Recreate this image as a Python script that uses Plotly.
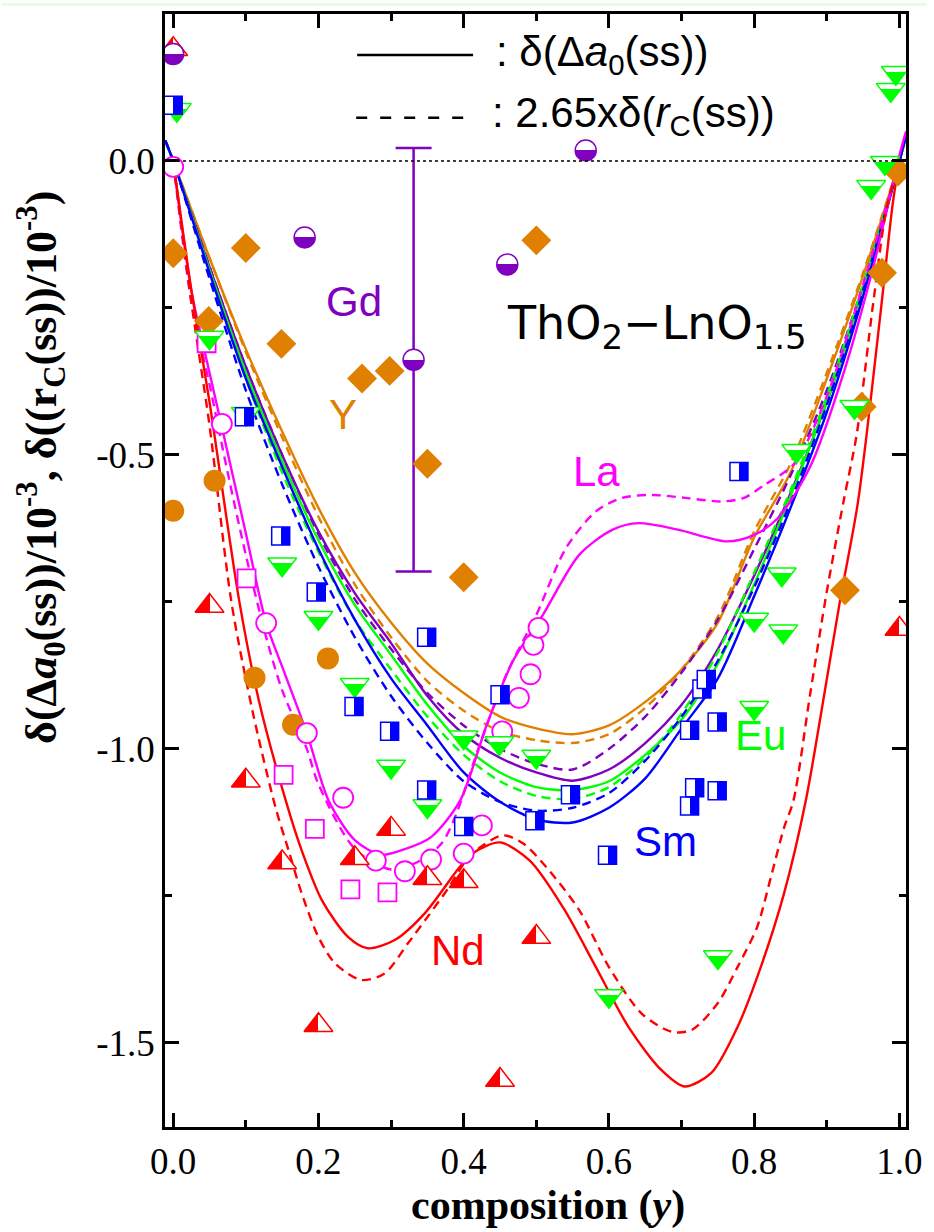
import plotly.graph_objects as go

# ---------------- data ----------------
X_TICKS = [0.0, 0.2, 0.4, 0.6, 0.8, 1.0]
X_TICK_TEXT = ["0.0", "0.2", "0.4", "0.6", "0.8", "1.0"]
X_MINOR = [0.1, 0.3, 0.5, 0.7, 0.9]
Y_TICKS = [0.0, -0.5, -1.0, -1.5]
Y_TICK_TEXT = ["0.0", "-0.5", "-1.0", "-1.5"]
Y_MINOR = [-0.25, -0.75, -1.25]

# measured points
ND_X = [0.0, 0.05, 0.1, 0.15, 0.2, 0.25, 0.3, 0.35, 0.4, 0.45, 0.5, 1.0]
ND_Y = [0.19, -0.757, -1.054, -1.193, -1.47, -1.186, -1.136, -1.22, -1.225, -1.563, -1.32, -0.796]

LA_CIRC_X = [0.0, 0.067, 0.128, 0.184, 0.234, 0.279, 0.319, 0.355, 0.40, 0.425, 0.453, 0.476, 0.492, 0.496, 0.503]
LA_CIRC_Y = [-0.01, -0.447, -0.786, -0.973, -1.083, -1.19, -1.208, -1.188, -1.178, -1.13, -0.97, -0.913, -0.873, -0.823, -0.794]
LA_SQ_X = [0.046, 0.101, 0.152, 0.195, 0.244, 0.295]
LA_SQ_Y = [-0.31, -0.71, -1.044, -1.136, -1.239, -1.244]

SM_X = [0.0, 0.098, 0.148, 0.197, 0.249, 0.298, 0.349, 0.349, 0.40, 0.45, 0.498, 0.547, 0.598,
        0.711, 0.711, 0.718, 0.728, 0.734, 0.749, 0.749, 0.779]
SM_Y = [0.095, -0.435, -0.638, -0.733, -0.928, -0.97, -0.81, -1.07, -1.132, -0.908, -1.122, -1.078, -1.181,
        -0.968, -1.097, -1.066, -0.898, -0.882, -0.954, -1.071, -0.528]

EU_X = [0.005, 0.05, 0.1, 0.15, 0.2, 0.25, 0.30, 0.35, 0.40, 0.449, 0.50, 0.60, 0.75, 0.80, 0.84, 0.80,
        0.838, 0.858, 0.938, 0.961, 0.98, 0.988, 0.995]
EU_Y = [0.087, -0.30, -0.43, -0.686, -0.777, -0.891, -1.03, -1.097, -0.98, -0.99, -1.013, -1.42, -1.354, -0.93,
        -0.80, -0.78, -0.703, -0.493, -0.418, -0.044, -0.003, 0.121, 0.15]

GD_X = [0.0, 0.181, 0.331, 0.46, 0.568]
GD_Y = [0.182, -0.13, -0.338, -0.176, 0.018]
GD_ERR = [0.36]

Y_DIA_X = [0.0, 0.049, 0.1, 0.149, 0.26, 0.298, 0.35, 0.40, 0.50, 0.925, 0.948, 0.976, 0.998]
Y_DIA_Y = [-0.157, -0.272, -0.148, -0.311, -0.37, -0.357, -0.515, -0.708, -0.135, -0.73, -0.418, -0.19, -0.018]
Y_CIRC_X = [0.0, 0.057, 0.112, 0.165, 0.213]
Y_CIRC_Y = [-0.595, -0.544, -0.879, -0.959, -0.846]

# model curves (solid: delta(Delta a0(ss)), dashed: 2.65 x delta(rc(ss)))
CX = [-0.011, 0, 0.05, 0.1, 0.15, 0.2, 0.25, 0.3, 0.35, 0.4, 0.45, 0.5, 0.55, 0.6, 0.65, 0.7,
      0.75, 0.8, 0.85, 0.9, 0.95, 1.0, 1.009]
Y_SOLID = [0.035, 0, -0.165, -0.32, -0.46, -0.59, -0.70, -0.785, -0.855, -0.905, -0.945, -0.965, -0.975,
           -0.96, -0.92, -0.865, -0.785, -0.64, -0.53, -0.37, -0.195, 0.0, 0.04]
Y_DASH = [0.035, 0, -0.165, -0.325, -0.47, -0.605, -0.72, -0.81, -0.885, -0.935, -0.97, -0.985, -0.99,
          -0.975, -0.93, -0.865, -0.775, -0.63, -0.515, -0.36, -0.19, 0.0, 0.04]
GD_SOLID = [0.035, 0, -0.18, -0.35, -0.50, -0.63, -0.735, -0.82, -0.91, -0.975, -1.015, -1.04, -1.054,
            -1.035, -0.99, -0.925, -0.83, -0.705, -0.565, -0.41, -0.22, 0.0, 0.045]
GD_DASH = [0.035, 0, -0.18, -0.35, -0.50, -0.635, -0.745, -0.83, -0.905, -0.96, -1.0, -1.025, -1.035,
           -1.0, -0.945, -0.87, -0.78, -0.66, -0.535, -0.39, -0.21, 0.0, 0.045]
EU_SOLID = [0.035, 0, -0.185, -0.36, -0.51, -0.645, -0.755, -0.84, -0.925, -0.995, -1.04, -1.065, -1.07,
            -1.055, -1.01, -0.95, -0.855, -0.72, -0.57, -0.41, -0.22, 0.0, 0.045]
EU_DASH = [0.035, 0, -0.19, -0.37, -0.53, -0.665, -0.78, -0.865, -0.945, -1.01, -1.055, -1.08, -1.085,
           -1.065, -1.015, -0.94, -0.835, -0.70, -0.56, -0.40, -0.21, 0.0, 0.045]
SM_SOLID = [0.035, 0, -0.19, -0.37, -0.52, -0.66, -0.78, -0.88, -0.96, -1.04, -1.09, -1.12, -1.125,
            -1.10, -1.05, -0.965, -0.88, -0.74, -0.59, -0.427, -0.23, 0.0, 0.045]
SM_DASH = [0.035, 0, -0.2, -0.39, -0.55, -0.69, -0.81, -0.91, -0.99, -1.055, -1.09, -1.105, -1.10,
           -1.075, -1.02, -0.945, -0.85, -0.725, -0.58, -0.415, -0.22, 0.0, 0.045]

LA_SOLID_X = [0, 0.025, 0.05, 0.066, 0.1, 0.128, 0.15, 0.184, 0.214, 0.25, 0.286, 0.32, 0.355, 0.395,
              0.432, 0.468, 0.509, 0.559, 0.605, 0.641, 0.695, 0.763, 0.80, 0.832, 0.877, 0.925, 0.964, 1.0, 1.009]
LA_SOLID_Y = [0, -0.22, -0.36, -0.447, -0.633, -0.786, -0.86, -0.973, -1.088, -1.155, -1.18, -1.17, -1.15,
              -1.088, -0.958, -0.85, -0.772, -0.67, -0.627, -0.616, -0.627, -0.647, -0.636, -0.608, -0.52,
              -0.353, -0.18, 0.01, 0.05]
LA_DASH_X = [0, 0.025, 0.05, 0.075, 0.1, 0.128, 0.15, 0.184, 0.2, 0.25, 0.3, 0.34, 0.37, 0.39, 0.42, 0.46,
             0.5, 0.541, 0.582, 0.618, 0.659, 0.705, 0.755, 0.786, 0.814, 0.855, 0.9, 0.95, 1.0]
LA_DASH_Y = [0, -0.24, -0.38, -0.53, -0.67, -0.81, -0.9, -1.0, -1.06, -1.17, -1.205, -1.19, -1.16, -1.11,
             -1.0, -0.87, -0.772, -0.658, -0.596, -0.573, -0.568, -0.573, -0.579, -0.573, -0.551, -0.515,
             -0.4, -0.21, 0.0]

ND_SOLID_X = [0, 0.025, 0.05, 0.091, 0.118, 0.155, 0.177, 0.205, 0.241, 0.268, 0.305, 0.346, 0.395, 0.414,
              0.45, 0.491, 0.537, 0.582, 0.627, 0.672, 0.704, 0.741, 0.777, 0.809, 0.841, 0.871, 0.895,
              0.918, 0.943, 0.973, 0.991, 1.0]
ND_SOLID_Y = [0, -0.22, -0.41, -0.749, -0.918, -1.088, -1.173, -1.258, -1.32, -1.339, -1.325, -1.28, -1.2,
              -1.176, -1.159, -1.19, -1.27, -1.371, -1.473, -1.546, -1.574, -1.551, -1.473, -1.371, -1.246,
              -1.088, -0.918, -0.749, -0.579, -0.269, -0.07, 0.0]
ND_DASH_X = [0, 0.025, 0.05, 0.08, 0.11, 0.141, 0.159, 0.177, 0.2, 0.223, 0.259, 0.291, 0.323, 0.35, 0.377,
             0.41, 0.454, 0.482, 0.513, 0.559, 0.6, 0.645, 0.686, 0.714, 0.75, 0.777, 0.804, 0.823, 0.841,
             0.854, 0.877, 0.9, 0.923, 0.941, 0.964, 0.982, 1.0]
ND_DASH_Y = [0, -0.24, -0.45, -0.749, -0.94, -1.1, -1.173, -1.246, -1.32, -1.365, -1.393, -1.382, -1.331,
             -1.286, -1.24, -1.18, -1.147, -1.161, -1.2, -1.274, -1.371, -1.45, -1.481, -1.478, -1.432,
             -1.371, -1.303, -1.218, -1.134, -1.088, -0.907, -0.732, -0.579, -0.466, -0.24, -0.082, 0.0]

# ---------------- styling ----------------
RED = "#ff0000"
MAG = "#ff00ff"
BLUE = "#0000ff"
GREEN = "#00ff00"
PURP = "#8000c0"
ORNG = "#e08000"
SERIF = "Liberation Serif"
SANS = "Liberation Sans"
WIDE = "DejaVu Sans"
DASH = "9px,6px"

fig = go.Figure()


def curve(x, y, color, dashed):
    fig.add_trace(go.Scatter(
        x=x, y=y, mode="lines", hoverinfo="skip", showlegend=False,
        line=dict(color=color, width=2.4, dash=DASH if dashed else "solid",
                  shape="spline", smoothing=0.8)))


curve(CX, Y_DASH, ORNG, True)
curve(CX, Y_SOLID, ORNG, False)
curve(CX, GD_DASH, PURP, True)
curve(CX, GD_SOLID, PURP, False)
curve(CX, EU_DASH, GREEN, True)
curve(CX, EU_SOLID, GREEN, False)
curve(CX, SM_DASH, BLUE, True)
curve(CX, SM_SOLID, BLUE, False)
curve(LA_DASH_X, LA_DASH_Y, MAG, True)
curve(LA_SOLID_X, LA_SOLID_Y, MAG, False)
curve(ND_DASH_X, ND_DASH_Y, RED, True)
curve(ND_SOLID_X, ND_SOLID_Y, RED, False)


def pts(x, y, uid, symbol, size, color, line_color, grad=None, lw=1.5):
    m = dict(symbol=symbol, size=size, color=color, line=dict(color=line_color, width=lw))
    if grad:
        m["gradient"] = dict(type=grad[0], color=grad[1])
    fig.add_trace(go.Scatter(x=x, y=y, mode="markers", uid=uid, marker=m,
                             hoverinfo="skip", showlegend=False, cliponaxis=True))


# Gd error bar
fig.add_trace(go.Scatter(x=[GD_X[2]], y=[GD_Y[2]], mode="markers", marker=dict(opacity=0, size=2),
                         hoverinfo="skip", showlegend=False,
                         error_y=dict(type="data", array=GD_ERR, color=PURP, thickness=2.5, width=18)))

pts(Y_DIA_X, Y_DIA_Y, "ydia", "diamond", 23, ORNG, ORNG, lw=0)
pts(Y_CIRC_X, Y_CIRC_Y, "ycirc", "circle", 22, ORNG, ORNG, lw=0)
pts(LA_SQ_X, LA_SQ_Y, "lasq", "square", 18, "white", MAG, lw=1.8)
pts(LA_CIRC_X, LA_CIRC_Y, "lacirc", "circle", 20, "white", MAG, lw=1.8)
pts(EU_X, EU_Y, "eu", "triangle-down", 25, "white", GREEN, grad=("vertical", GREEN))
pts(SM_X, SM_Y, "sm", "square", 18, "white", BLUE, grad=("horizontal", BLUE))
pts(ND_X, ND_Y, "nd", "triangle-up", 25, RED, RED, grad=("horizontal", "white"))
pts(GD_X, GD_Y, "gd", "circle", 21, "white", PURP, grad=("vertical", PURP))

# ---------------- layout ----------------
W, H = 934, 1232
L, R, T, B = 165, 21, 11, 105
PW, PH = W - L - R, H - T - B


def px_x(p):
    return (p - L) / PW


def px_y(p):
    return (H - B - p) / PH


axis_common = dict(showline=True, linewidth=2.5, linecolor="black", mirror="allticks",
                   ticks="inside", ticklen=14, tickwidth=2.5, tickcolor="black",
                   showgrid=False, zeroline=False,
                   tickfont=dict(family=SERIF, size=37, color="black"))

fig.update_layout(
    width=W, height=H, autosize=False,
    margin=dict(l=L, r=R, t=T, b=B, pad=0),
    paper_bgcolor="white", plot_bgcolor="white",
    showlegend=False,
    xaxis=dict(range=[-0.0113, 1.009], tickvals=X_TICKS, ticktext=X_TICK_TEXT,
               minor=dict(ticks="inside", ticklen=7, tickwidth=2.5, tickcolor="black", tickvals=X_MINOR),
               **axis_common),
    yaxis=dict(range=[-1.643, 0.25], tickvals=Y_TICKS, ticktext=Y_TICK_TEXT,
               minor=dict(ticks="inside", ticklen=7, tickwidth=2.5, tickcolor="black", tickvals=Y_MINOR),
               **axis_common),
)

shapes = [
    # light strip at the very top of the page
    dict(type="rect", xref="paper", yref="paper", x0=px_x(0), x1=px_x(W), y0=px_y(3), y1=px_y(0),
         fillcolor="#e8fae8", line=dict(width=0), layer="below"),
    # zero reference line
    dict(type="line", xref="paper", yref="y", x0=0, x1=1, y0=0, y1=0,
         line=dict(color="black", width=1.6, dash="dot")),
    # legend keys
    dict(type="line", xref="paper", yref="paper", x0=px_x(359), x1=px_x(476), y0=px_y(52), y1=px_y(52),
         line=dict(color="black", width=2.5)),
    dict(type="line", xref="paper", yref="paper", x0=px_x(358), x1=px_x(473), y0=px_y(115), y1=px_y(115),
         line=dict(color="black", width=2.5, dash="11px,13px")),
]
fig.update_layout(shapes=shapes)

ann = []


def text(x, y, s, size, color="black", family=SANS, xanchor="center", yanchor="middle", ref="paper", angle=0):
    ann.append(dict(x=x, y=y, xref=ref, yref=ref, text=s, showarrow=False, xanchor=xanchor,
                    yanchor=yanchor, textangle=angle, font=dict(family=family, size=size, color=color)))


text(px_x(497), px_y(52), ": δ(Δ<i>a</i><sub>0</sub>(ss))", 42, xanchor="left")
text(px_x(493), px_y(113), ": 2.65xδ(<i>r</i><sub>C</sub>(ss))", 42, xanchor="left")

text(px_x(356), px_y(299), "Gd", 42, PURP)
text(px_x(345), px_y(413), "Y", 42, ORNG)
text(px_x(601), px_y(470), "La", 42, MAG)
text(px_x(766), px_y(734), "Eu", 42, GREEN)
text(px_x(670), px_y(841), "Sm", 42, BLUE)
text(px_x(461), px_y(950), "Nd", 42, RED)
text(px_x(508), px_y(324),
     "ThO<sub><span style='font-size:34px'>2</span></sub>−LnO<sub><span style='font-size:34px'>1.5</span></sub>",
     46, family=WIDE, xanchor="left")

text(px_x(552), px_y(1206), "<b>composition (<i>y</i>)</b>", 42, family=SERIF)
text(px_x(40), px_y(466),
     "<b>δ(Δ<i>a</i><sub>0</sub>(ss))/10<sup>-3</sup>, δ((r<sub>C</sub>(ss))/10<sup>-3</sup>)</b>",
     44, family=SERIF, angle=-90)
fig.update_layout(annotations=ann)

# hard-edged half fills for the half-filled symbols
POST = """
var gd = document.getElementById('{plot_id}');
gd.querySelectorAll('linearGradient').forEach(function(g){
  var stops = g.querySelectorAll('stop');
  if (stops.length !== 2) return;
  var split = (g.id.indexOf('eu') >= 0) ? 72 : 50;
  var s0 = stops[0], s1 = stops[1];
  var a = s0.cloneNode(true); a.setAttribute('offset', split + '%');
  var b = s1.cloneNode(true); b.setAttribute('offset', split + '%');
  g.insertBefore(a, s1); g.insertBefore(b, s1);
  s0.setAttribute('offset', '0%'); s1.setAttribute('offset', '100%');
});
"""

fig.write_html("out.html", post_script=POST, config={"responsive": False, "displayModeBar": False})
